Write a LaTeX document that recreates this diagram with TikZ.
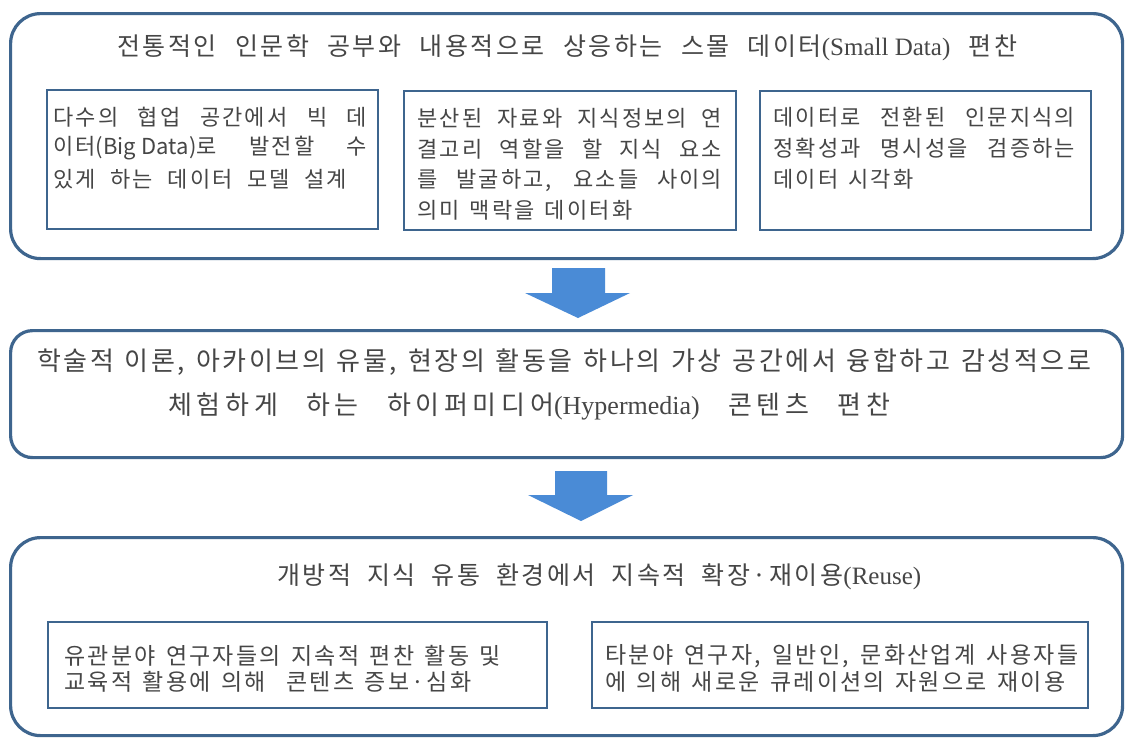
\documentclass[tikz,border=0pt]{standalone}
\usepackage{fontspec}
\setmainfont{Noto Sans CJK KR}[LetterSpace=10]
\newfontfamily\lsans{Noto Sans CJK KR}
\newfontfamily\lserif{Liberation Serif}
\definecolor{bordc}{RGB}{62,101,142}
\definecolor{arrowc}{RGB}{74,139,214}
\definecolor{txtc}{RGB}{70,70,70}
\newcommand\fsz[1]{\fontsize{#1}{#1}\selectfont\spaceskip=0.45em plus 2em minus 0.1em\relax}
\tikzset{
  x=1pt, y=-1pt,
  outerbox/.style={draw=bordc, line width=3.2pt, fill=white, anchor=north west, inner sep=0pt},
  innerbox/.style={draw=bordc, line width=2.4pt, fill=white, anchor=north west, inner sep=0pt},
  txt/.style={anchor=west, inner sep=0pt, text=txtc},
  blockarrow/.style={fill=arrowc, draw=none},
}
\begin{document}
\begin{tikzpicture}
\useasboundingbox[fill=white] (0,0) rectangle (1126,737);

% ---- top group
\node[outerbox, rounded corners=30pt, minimum width=1112pt, minimum height=245pt] (top) at (9,12) {};
\node[txt, font=\fsz{25}] (toptitle) at (117,48) {\makebox[900pt][s]{전통적인 인문학 공부와 내용적으로 상응하는 스몰 데이터{\lserif(Small\hspace{0.25em}Data)} 편찬}};

\node[innerbox, minimum width=331pt, minimum height=139pt] (b1) at (46,89) {};
\node[innerbox, minimum width=332pt, minimum height=139pt] (b2) at (403,90) {};
\node[innerbox, minimum width=331pt, minimum height=139pt] (b3) at (759,90) {};

\begin{scope}[every node/.style={txt, font=\fsz{22}}]
\node (b1l1) at (53,117) {\makebox[314pt][s]{다수의 협업 공간에서 빅 데}};
\node (b1l2) at (53,148) {\makebox[314pt][s]{이터{\lsans(Big\hspace{0.25em}Data)}로 발전할 수}};
\node (b1l3) at (53,179) {\makebox[294pt][s]{있게 하는 데이터 모델 설계}};

\node (b2l1) at (417,118) {\makebox[305pt][s]{분산된 자료와 지식정보의 연}};
\node (b2l2) at (417,149) {\makebox[305pt][s]{결고리 역할을 할 지식 요소}};
\node (b2l3) at (417,180) {\makebox[305pt][s]{를 발굴하고, 요소들 사이의}};
\node (b2l4) at (417,210) {의미 맥락을 데이터화};

\node (b3l1) at (773,117) {\makebox[302pt][s]{데이터로 전환된 인문지식의}};
\node (b3l2) at (773,148) {\makebox[302pt][s]{정확성과 명시성을 검증하는}};
\node (b3l3) at (773,179) {데이터 시각화};
\end{scope}

% ---- arrow 1
\coordinate (a1s1) at (552,268); \coordinate (a1s2) at (605,268);
\coordinate (a1s3) at (605,293); \coordinate (a1h1) at (630,293);
\coordinate (a1tip) at (578,318); \coordinate (a1h2) at (525,293);
\coordinate (a1s4) at (552,293);
\fill[blockarrow] (a1s1) -- (a1s2) -- (a1s3) -- (a1h1) -- (a1tip) -- (a1h2) -- (a1s4) -- cycle;

% ---- middle group
\node[outerbox, rounded corners=22pt, minimum width=1112pt, minimum height=127pt] (mid) at (9,329) {};
\node[txt, font=\fsz{26}] (midl1) at (37,362) {\makebox[1054pt][s]{학술적 이론, 아카이브의 유물, 현장의 활동을 하나의 가상 공간에서 융합하고 감성적으로}};
\node[txt, font=\fsz{26}] (midl2) at (168,406) {\addfontfeatures{LetterSpace=18}\makebox[722pt][s]{체험하게 하는 하이퍼미디어{\lserif(Hypermedia)} 콘텐츠 편찬}};

% ---- arrow 2
\coordinate (a2s1) at (555,471); \coordinate (a2s2) at (607,471);
\coordinate (a2s3) at (607,495); \coordinate (a2h1) at (633,495);
\coordinate (a2tip) at (581,521); \coordinate (a2h2) at (528,495);
\coordinate (a2s4) at (555,495);
\fill[blockarrow] (a2s1) -- (a2s2) -- (a2s3) -- (a2h1) -- (a2tip) -- (a2h2) -- (a2s4) -- cycle;

% ---- bottom group
\node[outerbox, rounded corners=30pt, minimum width=1112pt, minimum height=198pt] (bot) at (9,536) {};
\node[txt, font=\fsz{25}] (bottitle) at (277,577) {\makebox[644pt][s]{개방적 지식 유통 환경에서 지속적 확장·재이용{\lserif(Reuse)}}};

\node[innerbox, minimum width=499pt, minimum height=86pt] (b4) at (47,621) {};
\node[innerbox, minimum width=496pt, minimum height=86pt] (b5) at (591,621) {};

\begin{scope}[every node/.style={txt, font=\fsz{23}}]
\node (b4l1) at (64,656) {유관분야 연구자들의 지속적 편찬 활동 및};
\node (b4l2) at (64,682) {교육적 활용에 의해 \ 콘텐츠 증보·심화};
\node (b5l1) at (605,656) {\makebox[473pt][s]{타분야 연구자, 일반인, 문화산업계 사용자들}};
\node (b5l2) at (605,682) {에 의해 새로운 큐레이션의 자원으로 재이용};
\end{scope}
\end{tikzpicture}
\end{document}
